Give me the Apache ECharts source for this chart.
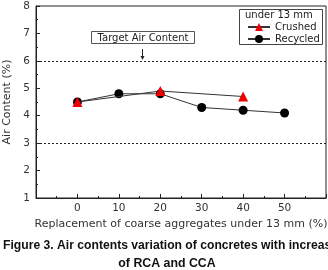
<!DOCTYPE html>
<html><head><meta charset="utf-8">
<script src="https://cdn.jsdelivr.net/npm/echarts@6/dist/echarts.min.js"></script>
<style>html,body{margin:0;padding:0;background:#fff}#c{width:328px;height:270px}</style>
</head><body><div id="c"></div>
<script>
const replacement = [0, 10, 20, 30, 40, 50];
const crushedX = [0, 20, 40];
const crushedY = [4.5, 4.9, 4.7];
const recycledX = [0, 10, 20, 30, 40, 50];
const recycledY = [4.5, 4.8, 4.8, 4.3, 4.2, 4.1];
const targetLimits = [6, 3];
const xTickLabels = ['0', '10', '20', '30', '40', '50'];
const yTickLabels = ['1','2','3','4','5','6','7','8'];

const chart = echarts.init(document.getElementById('c'), null, {renderer:'canvas'});
const font = 'DejaVu Sans, Liberation Sans, sans-serif';
const capFont = 'bold 13px "Liberation Sans", sans-serif';
const ink = '#222';
chart.setOption({
  animation: false,
  grid: {left: 36, right: 2, top: 6, bottom: 72, show: true, borderColor: ink, borderWidth: 1,
    backgroundColor: 'transparent', containLabel: false, outerBoundsMode: 'none'},
  xAxis: {
    type: 'value', min: -10, max: 60, interval: 10,
    name: 'Replacement of coarse aggregates under 13 mm (%)',
    nameLocation: 'middle', nameGap: 19,
    nameTextStyle: {fontFamily: font, fontSize: 11, color: '#333'},
    axisLine: {onZero: false, lineStyle: {color: ink, width: 1}},
    axisTick: {inside: true, length: 4, lineStyle: {color: ink}},
    minorTick: {show: true, splitNumber: 2, length: 2, lineStyle: {color: ink}},
    splitLine: {show: false},
    axisLabel: {fontFamily: font, fontSize: 10.5, color: '#333', margin: 5,
      formatter: v => xTickLabels.includes(String(v)) ? String(v) : ''}
  },
  yAxis: {
    type: 'value', min: 1, max: 8, interval: 1,
    name: 'Air Content (%)', nameLocation: 'middle', nameGap: 17,
    nameTextStyle: {fontFamily: font, fontSize: 11, color: '#333'},
    axisLine: {onZero: false, lineStyle: {color: ink, width: 1}},
    axisTick: {inside: true, length: 4, lineStyle: {color: ink}},
    minorTick: {show: true, splitNumber: 2, length: 2, lineStyle: {color: ink}},
    splitLine: {show: false},
    axisLabel: {fontFamily: font, fontSize: 10.5, color: '#333', margin: 6,
      formatter: v => yTickLabels.includes(String(v)) ? String(v) : ''}
  },
  legend: {
    orient: 'vertical', left: 247, top: 22, itemGap: 2, padding: 0,
    itemWidth: 22, itemHeight: 10,
    textStyle: {fontFamily: font, fontSize: 10, color: '#222'},
    data: ['Crushed', 'Recycled']
  },
  series: [
    {name: 'Recycled', type: 'line', data: recycledX.map((x,i)=>[x, recycledY[i]]),
      symbol: 'circle', symbolSize: 9, z: 3,
      itemStyle: {color: '#000'}, lineStyle: {color: '#333', width: 1},
      markLine: {silent: true, symbol: 'none', label: {show: false},
        lineStyle: {color: '#222', type: [2,2], width: 1},
        data: targetLimits.map(v => ({yAxis: v}))}
    },
    {name: 'Crushed', type: 'line', data: crushedX.map((x,i)=>[x, crushedY[i]]),
      symbol: 'triangle', symbolSize: 10, z: 4,
      itemStyle: {color: '#ee0000'}, lineStyle: {color: '#333', width: 1}}
  ],
  graphic: [
    {type: 'rect', shape: {x: 239.5, y: 9.5, width: 83, height: 35}, style: {fill: 'none', stroke: '#444', lineWidth: 1}},
    {type: 'text', x: 245, y: 15, style: {text: 'under 13 mm', font: '10px ' + font, fill: '#222', verticalAlign: 'middle'}},
    {type: 'rect', shape: {x: 91.5, y: 31.5, width: 103, height: 12}, style: {fill: '#fff', stroke: '#555', lineWidth: 1}},
    {type: 'text', x: 143, y: 38, style: {text: 'Target Air Content', font: '10px ' + font, fill: '#222', align: 'center', verticalAlign: 'middle'}},
    {type: 'line', shape: {x1: 142.5, y1: 49, x2: 142.5, y2: 58}, style: {stroke: '#222', lineWidth: 1}},
    {type: 'polygon', shape: {points: [[140.5, 56], [144.5, 56], [142.5, 60]]}, style: {fill: '#222'}},
    {type: 'text', x: 3, y: 245, scaleX: 0.935, originX: 0, style: {text: 'Figure 3. Air contents variation of concretes with increase', font: capFont, fill: '#111', verticalAlign: 'middle'}},
    {type: 'text', x: 167, y: 263, scaleX: 0.95, originX: 0, style: {text: 'of RCA and CCA', font: capFont, fill: '#111', align: 'center', verticalAlign: 'middle'}}
  ]
});
</script></body></html>
